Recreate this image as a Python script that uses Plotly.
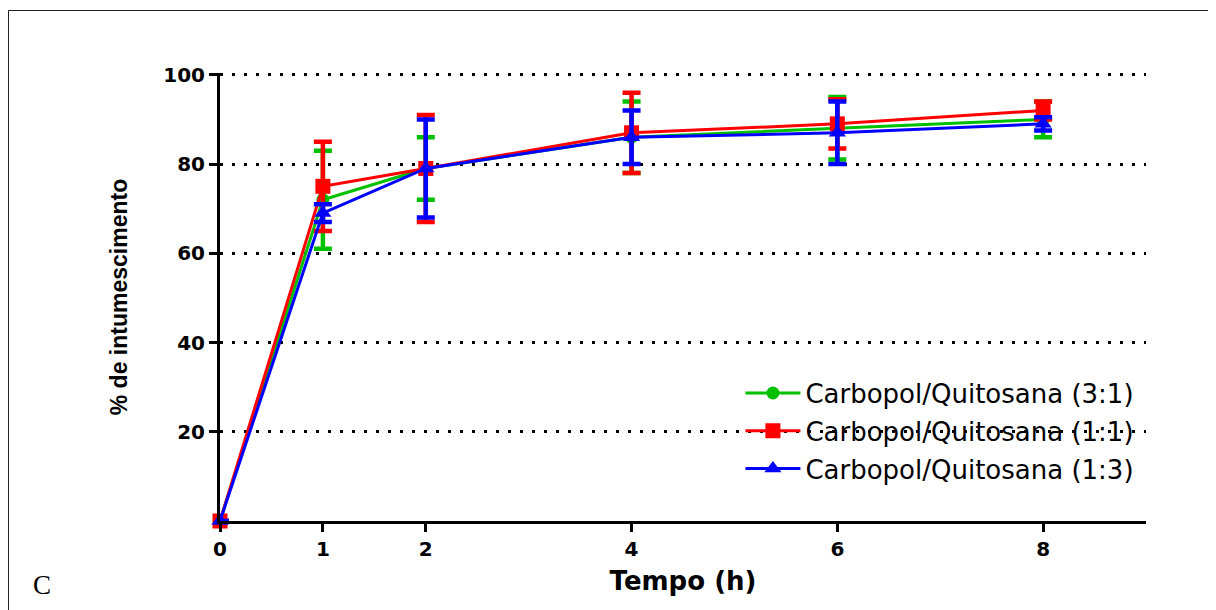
import plotly.graph_objects as go

tempo = [0, 1, 2, 4, 6, 8]
x_ticks = [0, 1, 2, 4, 6, 8]
y_ticks = [20, 40, 60, 80, 100]

names = ["Carbopol/Quitosana (3:1)", "Carbopol/Quitosana (1:1)", "Carbopol/Quitosana (1:3)"]
g31 = [0, 72, 79, 86, 88, 90]
g31_err = [0, 11, 7, 8, 7, 4]
g11 = [0, 75, 79, 87, 89, 92]
g11_err = [0, 10, 12, 9, 5.5, 2]
g13 = [0, 69, 79, 86, 87, 89]
g13_err = [0, 2, 11, 6, 7, 1.5]

colors = ["#00c000", "#ff0000", "#0000ff"]
symbols = ["circle", "square", "triangle-up"]
msizes = [13, 15, 15]

fig = go.Figure()
for i, (y, e) in enumerate([(g31, g31_err), (g11, g11_err), (g13, g13_err)]):
    fig.add_trace(go.Scatter(
        x=tempo, y=y, name=names[i], mode="lines+markers",
        line=dict(color=colors[i], width=3),
        marker=dict(color=colors[i], symbol=symbols[i], size=msizes[i]),
        error_y=dict(type="data", array=e, visible=True, color=colors[i],
                     thickness=4.5, width=9),
        cliponaxis=False, legendgroup=str(i),
    ))

wide = "DejaVu Sans"
fig.update_layout(
    width=1216, height=610,
    margin=dict(l=212, r=78, t=65, b=97),
    paper_bgcolor="white", plot_bgcolor="white",
    showlegend=True,
    legend=dict(x=0.562, y=0.338, xanchor="left", yanchor="top",
                bgcolor="rgba(0,0,0,0)", traceorder="grouped",
                tracegroupgap=1, itemwidth=55,
                font=dict(family=wide, size=26, color="black")),
    xaxis=dict(range=[0, 9], tickvals=x_ticks, ticks="outside", ticklen=8,
               tickwidth=3, tickcolor="black", showline=True, linewidth=3,
               linecolor="black", showgrid=False, zeroline=False,
               automargin=False,
               tickfont=dict(family=wide, size=20, color="black", weight="bold"),
               title=dict(text="<b>Tempo (h)</b>", standoff=12,
                          font=dict(family=wide, size=26, color="black"))),
    yaxis=dict(range=[0, 100.4], tickvals=y_ticks, ticks="outside", ticklen=8,
               tickwidth=3, tickcolor="black", showline=True, linewidth=3,
               linecolor="black", showgrid=True, gridcolor="black",
               gridwidth=3, griddash="3px,9px", zeroline=False,
               automargin=False,
               tickfont=dict(family=wide, size=20, color="black", weight="bold"),
               title=dict(text="<b>% de intumescimento</b>", standoff=30,
                          font=dict(family="Liberation Sans", size=23, color="black"))),
)

# page frame (top and left edges)
fig.add_shape(type="line", xref="paper", yref="paper",
              x0=-0.2284, x1=1.09, y0=1.1395, y1=1.1395,
              line=dict(color="#222222", width=1))
fig.add_shape(type="line", xref="paper", yref="paper",
              x0=-0.2284, x1=-0.2284, y0=1.1395, y1=-0.25,
              line=dict(color="#222222", width=1))

fig.add_annotation(text="C", xref="paper", yref="paper", x=-0.192, y=-0.143,
                   xanchor="center", yanchor="middle", showarrow=False,
                   font=dict(family="Liberation Serif", size=27, color="black"))

fig.write_html("out.html")
